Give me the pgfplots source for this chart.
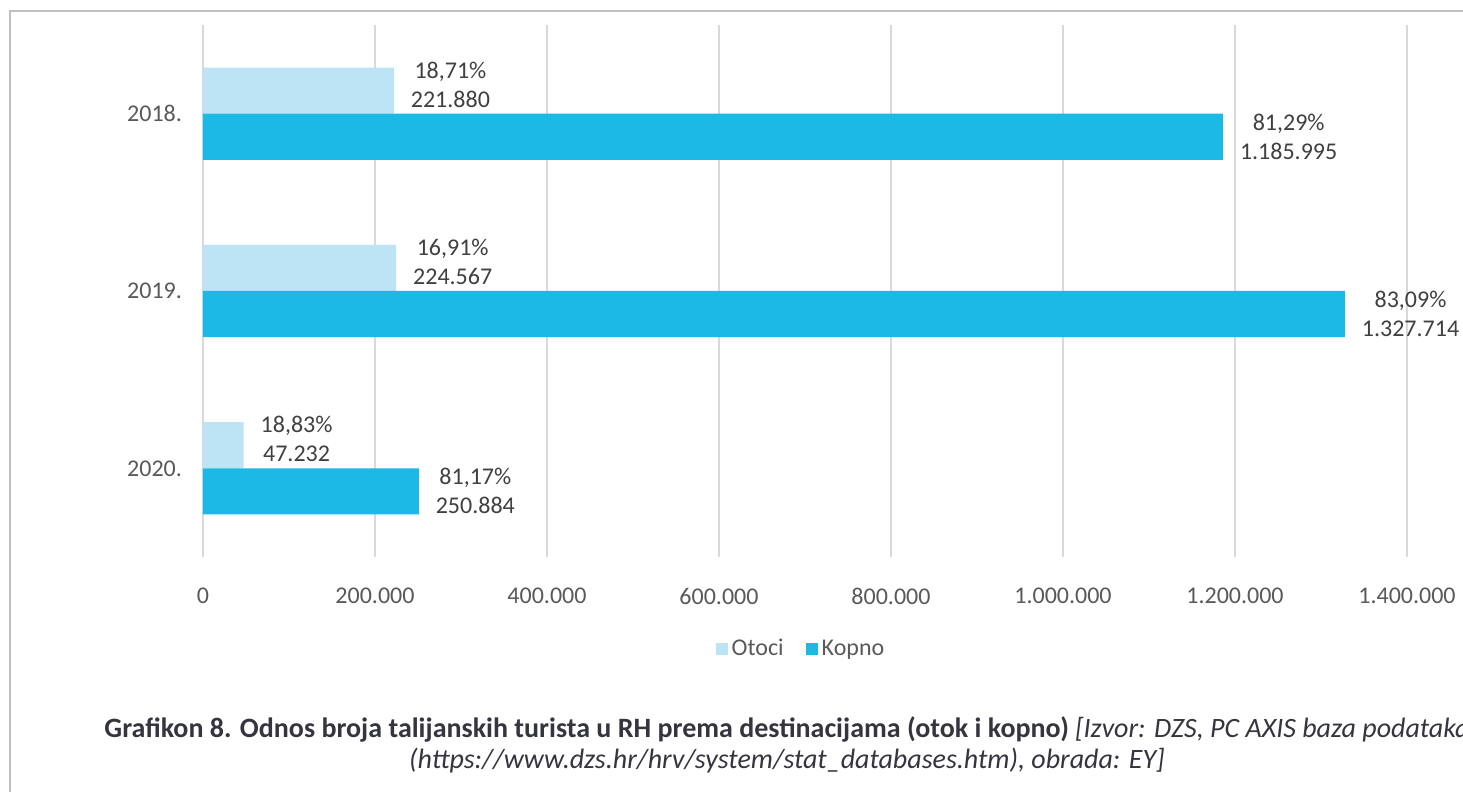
\documentclass[border=0pt]{standalone}
\usepackage{pgfplots}
\pgfplotsset{compat=1.18}
\usepackage{fontspec}
\setmainfont{Carlito}
\definecolor{otoci}{HTML}{BDE4F5}
\definecolor{kopno}{HTML}{1AB9E6}
\definecolor{gridc}{HTML}{D9D9D9}
\definecolor{framec}{HTML}{BFBFBF}
\definecolor{tickc}{HTML}{595959}
\definecolor{labc}{HTML}{404040}
\definecolor{capc}{HTML}{353540}
\begin{document}
\begin{tikzpicture}
\path[use as bounding box] (0,0) rectangle (731.5pt,396pt);
\clip (0,0) rectangle (731.5pt,396pt);
\fill[white] (0,0) rectangle (731.5pt,396pt);
\draw[framec, line width=1pt] (5pt,-5pt) -- (5pt,390.5pt) -- (760pt,390.5pt);
\begin{axis}[
  at={(101.5pt,117.5pt)}, anchor=south west,
  scale only axis, width=602pt, height=266pt,
  xbar, bar width=0.26,
  xmin=0, xmax=1400000, ymin=-0.5, ymax=2.5,
  scaled x ticks=false,
  ytick={0,1,2}, yticklabels={2020.,2019.,2018.},
  xtick={0,200000,400000,600000,800000,1000000,1200000,1400000},
  xticklabels={0,200.000,400.000,600.000,800.000,1.000.000,1.200.000,1.400.000},
  axis line style={draw=none},
  major tick length=0pt,
  xmajorgrids, grid style={gridc, line width=0.8pt},
  ticklabel style={font=\fontsize{12}{14}\selectfont, text=tickc},
  xticklabel style={yshift=-12pt},
  yticklabel style={xshift=-7pt},
  point meta=explicit symbolic,
  nodes near coords,
  nodes near coords style={anchor=west, align=center, xshift=5pt,
    font=\fontsize{12}{14.5}\selectfont, text=labc},
  legend style={at={(0.4975,-0.173)}, anchor=center, draw=none,
    font=\fontsize{12}{14}\selectfont, text=tickc,
    legend columns=2, /tikz/every even column/.append style={column sep=9pt},
    inner sep=0pt},
  legend image code/.code={\fill[#1] (0pt,-3pt) rectangle (6pt,3pt);},
]
\addplot[fill=otoci, draw=none, bar shift=0.13,
  nodes near coords style={yshift=3pt}] coordinates {
  (221880,2) [18,71\%\\221.880]
  (224567,1) [16,91\%\\224.567]
  (47232,0) [18,83\%\\47.232]
};
\addlegendentry{Otoci}
\addplot[fill=kopno, draw=none, bar shift=-0.13] coordinates {
  (1185995,2) [81,29\%\\1.185.995]
  (1327714,1) [83,09\%\\1.327.714]
  (250884,0) [81,17\%\\250.884]
};
\addlegendentry{Kopno}
\end{axis}
\node[align=center, text=capc, font=\fontsize{14}{15.5}\selectfont] at (393.5pt,23.75pt)
  {\textbf{Grafikon 8. Odnos broja talijanskih turista u RH prema destinacijama (otok i kopno)} \textit{[Izvor: DZS, PC AXIS baza podataka}\\
   \textit{(https://www.dzs.hr/hrv/system/stat\_databases.htm), obrada: EY]}};
\end{tikzpicture}
\end{document}
